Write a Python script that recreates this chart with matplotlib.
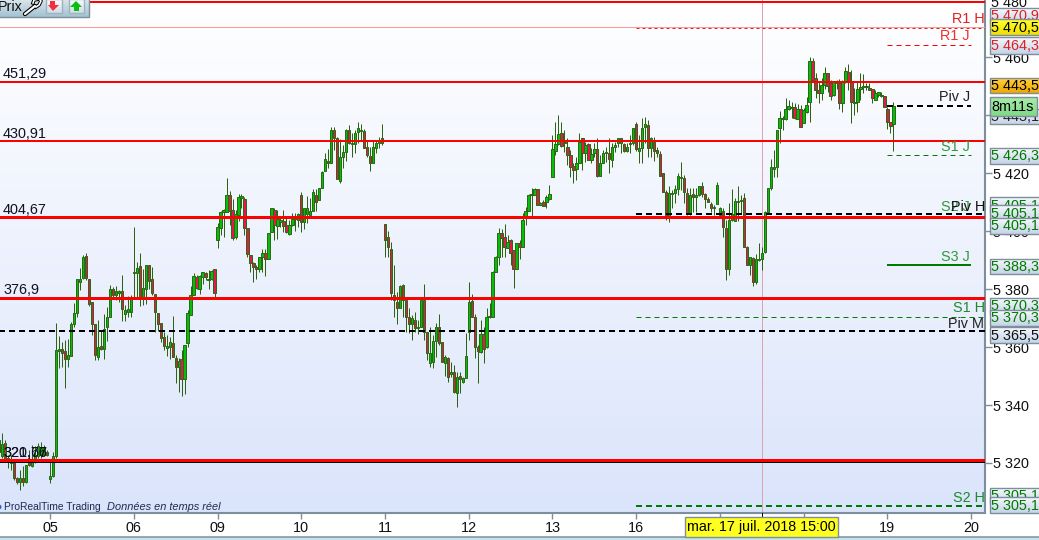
import numpy as np
import matplotlib
matplotlib.use("Agg")
import matplotlib.pyplot as plt
from matplotlib.patches import Rectangle, Polygon

plt.rcParams['font.family'] = ['Liberation Sans', 'DejaVu Sans']

opens = [
    5323.8, 5322.4, 5326.9, 5320.3, 5320.0, 5320.3, 5314.8, 5313.4, 5314.8, 5313.4,
    5320.7, 5319.0, 5320.3, 5322.4, 5322.8, 5322.8, 5323.8, 5314.5, 5315.5, 5322.4,
    5358.6, 5359.3, 5358.6, 5355.9, 5356.9, 5367.9, 5371.7, 5382.4, 5383.8, 5391.4,
    5383.4, 5375.5, 5367.9, 5356.6, 5360.3, 5359.3, 5366.9, 5370.3, 5380.0, 5377.9,
    5378.6, 5379.3, 5371.4, 5372.1, 5372.1, 5385.5, 5385.5, 5387.9, 5377.2, 5380.0,
    5388.3, 5383.4, 5378.3, 5371.7, 5368.3, 5363.4, 5359.7, 5360.0, 5361.4, 5356.2,
    5353.1, 5355.9, 5349.0, 5361.4, 5371.0, 5377.9, 5384.1, 5380.0, 5384.1, 5385.5,
    5383.1, 5383.4, 5386.9, 5396.9, 5401.0, 5406.6, 5406.6, 5412.4, 5407.2, 5397.9,
    5405.5, 5411.4, 5411.0, 5401.0, 5391.7, 5389.0, 5387.6, 5386.9, 5391.0, 5392.4,
    5390.3, 5399.7, 5407.2, 5401.7, 5403.1, 5403.4, 5402.1, 5399.0, 5402.1, 5404.1,
    5403.8, 5412.4, 5403.1, 5405.9, 5405.5, 5406.9, 5412.4, 5410.7, 5414.8, 5420.7,
    5424.1, 5423.4, 5434.8, 5432.1, 5417.2, 5425.5, 5427.2, 5434.8, 5430.0, 5430.0,
    5434.1, 5434.5, 5434.5, 5429.0, 5425.9, 5423.4, 5428.6, 5430.3, 5432.1, 5402.4,
    5397.9, 5393.8, 5377.9, 5375.5, 5373.4, 5381.4, 5376.2, 5370.3, 5367.9, 5369.3,
    5366.6, 5366.9, 5376.2, 5365.2, 5354.5, 5354.8, 5362.1, 5366.9, 5361.7, 5354.5,
    5356.2, 5350.7, 5351.4, 5344.1, 5350.0, 5347.9, 5349.3, 5365.2, 5375.9, 5370.3,
    5360.0, 5358.3, 5364.5, 5360.0, 5370.3, 5370.3, 5385.9, 5391.0, 5399.3, 5397.9,
    5394.1, 5396.9, 5393.4, 5386.9, 5395.9, 5394.5, 5404.8, 5406.9, 5412.4, 5412.4,
    5414.5, 5409.0, 5410.0, 5410.0, 5411.0, 5418.6, 5427.6, 5430.0, 5433.8, 5430.7,
    5429.0, 5426.2, 5422.4, 5421.4, 5423.4, 5432.1, 5426.9, 5430.0, 5424.5, 5426.9,
    5428.3, 5419.0, 5423.4, 5426.9, 5426.9, 5424.5, 5429.0, 5430.3, 5432.1, 5430.0,
    5427.6, 5430.0, 5430.3, 5436.9, 5427.6, 5428.6, 5435.9, 5436.6, 5428.6, 5430.7,
    5427.9, 5426.6, 5420.0, 5413.4, 5404.8, 5412.8, 5413.1, 5414.5, 5418.3, 5418.3,
    5413.1, 5405.9, 5412.8, 5411.7, 5412.4, 5415.5, 5412.8, 5411.0, 5409.3, 5407.9,
    5409.3, 5405.5, 5406.9, 5401.0, 5386.9, 5403.8, 5403.4, 5410.0, 5410.3, 5411.4,
    5394.5, 5388.3, 5390.7, 5382.4, 5390.0, 5390.3, 5392.8, 5406.6, 5414.8, 5421.4,
    5422.1, 5435.5, 5438.6, 5438.6, 5442.1, 5442.4, 5442.8, 5438.6, 5442.1, 5437.2,
    5441.0, 5444.5, 5458.6, 5452.8, 5448.6, 5447.6, 5450.3, 5454.5, 5451.0, 5446.9,
    5451.0, 5451.0, 5444.1, 5451.4, 5454.8, 5451.4, 5444.1, 5444.5, 5449.0, 5449.7,
    5449.7, 5449.3, 5449.0, 5445.2, 5446.9, 5446.6, 5446.6, 5442.1, 5437.6, 5436.9,
]
highs = [
    5330.7, 5330.3, 5327.9, 5322.8, 5322.8, 5320.7, 5315.2, 5317.6, 5319.0, 5319.3,
    5324.5, 5326.2, 5325.9, 5326.9, 5327.2, 5326.2, 5324.5, 5320.3, 5323.8, 5368.3,
    5363.8, 5361.7, 5362.4, 5362.8, 5368.6, 5375.2, 5383.4, 5387.2, 5391.7, 5392.4,
    5383.4, 5375.5, 5367.9, 5369.3, 5365.9, 5371.4, 5373.8, 5381.4, 5380.7, 5381.0,
    5379.7, 5384.8, 5374.5, 5377.6, 5377.9, 5401.4, 5389.3, 5392.4, 5386.9, 5388.3,
    5388.3, 5387.6, 5378.3, 5371.7, 5368.3, 5365.2, 5364.1, 5363.4, 5370.7, 5357.2,
    5356.2, 5359.0, 5360.7, 5372.8, 5381.0, 5385.5, 5384.8, 5384.8, 5385.9, 5385.9,
    5386.6, 5386.6, 5386.9, 5402.8, 5406.9, 5407.6, 5418.3, 5413.8, 5411.0, 5407.2,
    5412.8, 5412.8, 5411.7, 5401.0, 5391.7, 5389.3, 5388.3, 5391.0, 5393.8, 5393.8,
    5399.3, 5407.9, 5407.9, 5407.2, 5404.8, 5407.2, 5404.5, 5403.8, 5406.2, 5406.2,
    5406.2, 5413.4, 5407.9, 5412.1, 5411.4, 5414.5, 5414.5, 5414.8, 5420.7, 5426.9,
    5428.3, 5435.9, 5435.9, 5432.4, 5431.7, 5429.7, 5435.2, 5436.6, 5433.8, 5434.8,
    5437.6, 5436.9, 5435.2, 5431.4, 5429.0, 5431.4, 5431.4, 5432.4, 5436.9, 5402.4,
    5400.0, 5396.2, 5388.3, 5379.0, 5381.4, 5381.7, 5376.2, 5373.4, 5371.0, 5372.1,
    5369.3, 5376.2, 5381.7, 5365.2, 5366.9, 5364.1, 5368.3, 5371.4, 5361.7, 5357.2,
    5356.6, 5354.8, 5353.8, 5351.4, 5351.4, 5349.7, 5364.8, 5382.4, 5378.3, 5371.4,
    5360.7, 5369.3, 5366.9, 5373.4, 5375.2, 5386.2, 5391.4, 5401.0, 5400.7, 5402.4,
    5398.6, 5397.2, 5393.4, 5395.9, 5396.9, 5406.2, 5408.3, 5412.8, 5414.8, 5414.8,
    5414.5, 5410.0, 5410.7, 5412.4, 5415.9, 5433.1, 5437.6, 5440.0, 5437.6, 5434.8,
    5432.1, 5427.9, 5423.4, 5425.5, 5433.8, 5432.1, 5430.7, 5430.3, 5428.6, 5430.3,
    5432.1, 5426.2, 5427.9, 5429.0, 5432.1, 5430.3, 5430.7, 5432.1, 5432.1, 5430.3,
    5430.3, 5433.1, 5435.5, 5437.6, 5433.1, 5439.0, 5439.3, 5438.3, 5432.4, 5432.4,
    5429.0, 5427.6, 5420.0, 5414.1, 5415.5, 5414.1, 5415.9, 5420.0, 5423.8, 5419.3,
    5414.8, 5414.8, 5414.8, 5414.8, 5415.5, 5416.9, 5413.1, 5411.7, 5410.0, 5409.0,
    5416.9, 5408.3, 5407.9, 5403.8, 5409.7, 5414.5, 5411.4, 5415.5, 5412.4, 5413.1,
    5394.8, 5391.0, 5391.0, 5392.1, 5395.9, 5394.5, 5406.9, 5414.8, 5424.8, 5427.9,
    5434.8, 5441.4, 5439.7, 5445.9, 5445.2, 5444.5, 5444.1, 5443.8, 5443.4, 5442.4,
    5446.2, 5460.0, 5459.7, 5454.5, 5451.4, 5452.8, 5456.6, 5454.5, 5452.1, 5451.4,
    5452.1, 5452.4, 5452.1, 5456.6, 5457.6, 5455.5, 5449.3, 5451.4, 5454.5, 5454.1,
    5451.0, 5451.0, 5449.0, 5448.6, 5447.9, 5447.9, 5446.6, 5442.8, 5437.6, 5444.5,
]
lows = [
    5321.7, 5321.7, 5320.7, 5318.3, 5317.6, 5314.1, 5312.8, 5310.7, 5312.1, 5313.1,
    5319.0, 5318.6, 5320.0, 5321.7, 5321.7, 5322.4, 5322.4, 5313.1, 5315.2, 5321.7,
    5352.8, 5353.1, 5345.9, 5353.1, 5356.9, 5366.9, 5370.3, 5379.7, 5383.4, 5383.1,
    5374.1, 5364.1, 5355.5, 5355.5, 5359.0, 5355.9, 5362.1, 5370.3, 5376.9, 5376.2,
    5375.5, 5369.0, 5369.0, 5370.3, 5370.3, 5376.9, 5377.2, 5374.1, 5374.5, 5374.8,
    5380.0, 5377.9, 5365.2, 5365.5, 5361.7, 5359.0, 5356.9, 5355.9, 5356.6, 5347.6,
    5344.5, 5343.1, 5343.8, 5360.0, 5371.0, 5377.9, 5380.0, 5378.3, 5381.7, 5383.1,
    5380.0, 5383.1, 5377.2, 5394.1, 5398.6, 5397.9, 5406.6, 5402.1, 5396.9, 5397.2,
    5403.4, 5407.9, 5398.6, 5391.0, 5385.9, 5382.4, 5383.4, 5385.9, 5385.9, 5384.5,
    5390.3, 5399.7, 5396.9, 5397.2, 5401.4, 5399.7, 5399.3, 5398.6, 5401.7, 5400.0,
    5401.4, 5399.7, 5400.7, 5402.8, 5404.8, 5406.9, 5406.9, 5410.7, 5414.8, 5420.7,
    5421.7, 5423.4, 5427.9, 5417.9, 5416.6, 5421.7, 5424.1, 5430.0, 5425.5, 5426.9,
    5430.3, 5431.4, 5428.6, 5425.5, 5420.7, 5423.4, 5426.9, 5428.6, 5429.7, 5391.0,
    5391.0, 5376.2, 5370.3, 5367.9, 5373.4, 5370.3, 5365.2, 5364.8, 5362.4, 5365.2,
    5364.5, 5366.9, 5362.4, 5355.5, 5353.1, 5352.8, 5356.6, 5360.7, 5354.8, 5350.0,
    5347.9, 5349.7, 5344.1, 5339.3, 5344.1, 5347.6, 5349.3, 5362.4, 5370.3, 5356.2,
    5347.6, 5357.9, 5354.5, 5359.7, 5370.0, 5370.3, 5385.9, 5388.3, 5391.0, 5391.0,
    5394.1, 5388.3, 5380.3, 5386.9, 5390.3, 5394.5, 5402.1, 5406.9, 5405.2, 5412.4,
    5409.0, 5409.0, 5408.6, 5407.9, 5410.7, 5418.6, 5426.2, 5429.7, 5429.0, 5427.2,
    5422.8, 5418.6, 5416.6, 5417.6, 5423.4, 5421.0, 5423.8, 5424.5, 5423.4, 5425.5,
    5418.6, 5419.0, 5423.4, 5423.8, 5420.0, 5422.1, 5427.2, 5429.0, 5426.9, 5427.2,
    5427.2, 5426.9, 5429.7, 5427.6, 5423.4, 5423.4, 5430.3, 5425.5, 5425.5, 5424.1,
    5425.5, 5419.0, 5413.4, 5403.8, 5403.1, 5407.9, 5409.7, 5412.4, 5414.1, 5409.7,
    5405.5, 5405.5, 5406.6, 5406.6, 5412.1, 5411.7, 5407.9, 5410.0, 5406.6, 5405.5,
    5409.3, 5404.8, 5397.9, 5383.1, 5384.8, 5403.4, 5403.4, 5403.4, 5406.2, 5394.5,
    5388.3, 5384.8, 5381.0, 5381.7, 5389.7, 5386.6, 5392.4, 5406.6, 5414.1, 5418.6,
    5418.6, 5430.3, 5434.8, 5438.3, 5441.7, 5439.0, 5438.6, 5438.6, 5435.9, 5437.2,
    5440.7, 5437.6, 5451.7, 5445.9, 5444.1, 5445.2, 5449.0, 5447.9, 5445.2, 5446.6,
    5449.0, 5442.1, 5441.0, 5451.0, 5448.6, 5437.2, 5440.0, 5441.0, 5445.2, 5447.6,
    5448.6, 5448.6, 5444.1, 5445.2, 5446.2, 5446.2, 5442.8, 5435.2, 5433.8, 5427.6,
]
closes = [
    5327.9, 5326.6, 5321.0, 5321.7, 5321.0, 5314.8, 5313.4, 5314.8, 5313.4, 5319.3,
    5319.3, 5320.3, 5322.8, 5325.9, 5325.2, 5325.5, 5322.8, 5315.5, 5322.4, 5359.0,
    5359.3, 5357.9, 5355.9, 5357.2, 5367.9, 5371.7, 5383.4, 5383.4, 5391.0, 5383.8,
    5374.8, 5367.9, 5357.2, 5360.0, 5359.3, 5366.2, 5370.3, 5380.0, 5377.9, 5379.3,
    5379.3, 5373.1, 5372.8, 5373.1, 5376.9, 5385.9, 5387.2, 5377.2, 5380.3, 5388.3,
    5382.8, 5378.6, 5372.1, 5367.9, 5363.1, 5360.3, 5360.3, 5361.7, 5356.6, 5353.1,
    5355.2, 5349.0, 5360.7, 5371.7, 5377.9, 5384.5, 5380.3, 5384.5, 5385.9, 5384.1,
    5383.4, 5386.2, 5378.6, 5401.4, 5406.6, 5407.2, 5412.4, 5406.9, 5397.6, 5405.9,
    5411.7, 5412.1, 5401.0, 5392.1, 5389.0, 5387.6, 5386.9, 5391.0, 5392.4, 5390.3,
    5399.3, 5407.9, 5402.1, 5404.1, 5403.8, 5401.7, 5399.7, 5402.1, 5404.1, 5405.2,
    5405.9, 5403.1, 5407.9, 5407.9, 5406.9, 5413.4, 5410.0, 5414.8, 5420.3, 5424.8,
    5423.4, 5434.8, 5432.1, 5417.9, 5425.5, 5427.2, 5434.8, 5430.3, 5430.3, 5433.8,
    5435.5, 5434.8, 5428.6, 5426.2, 5423.4, 5429.0, 5430.3, 5431.0, 5430.3, 5396.9,
    5394.5, 5378.6, 5376.2, 5373.4, 5381.0, 5376.2, 5370.3, 5367.9, 5370.0, 5366.6,
    5366.9, 5376.2, 5365.2, 5357.9, 5357.9, 5362.1, 5366.9, 5361.4, 5354.8, 5356.6,
    5349.7, 5351.4, 5344.5, 5349.7, 5349.0, 5349.3, 5356.9, 5375.5, 5370.3, 5360.0,
    5358.6, 5364.5, 5359.3, 5370.3, 5370.7, 5385.9, 5391.0, 5399.3, 5397.6, 5394.5,
    5396.2, 5392.4, 5386.9, 5395.9, 5394.5, 5403.8, 5406.9, 5412.4, 5412.8, 5414.5,
    5409.0, 5409.7, 5408.6, 5411.7, 5412.8, 5428.3, 5430.0, 5433.4, 5429.3, 5430.3,
    5426.2, 5422.1, 5421.0, 5423.4, 5430.7, 5426.9, 5429.7, 5424.5, 5426.6, 5428.3,
    5419.0, 5423.4, 5426.9, 5427.2, 5424.8, 5429.0, 5429.7, 5432.1, 5430.3, 5427.6,
    5429.0, 5430.3, 5435.5, 5428.3, 5428.6, 5435.5, 5436.9, 5428.6, 5432.1, 5427.6,
    5426.9, 5419.0, 5413.4, 5404.8, 5413.1, 5413.1, 5414.5, 5419.0, 5418.6, 5413.4,
    5405.9, 5412.4, 5411.7, 5412.4, 5415.5, 5412.8, 5411.0, 5410.0, 5407.9, 5408.3,
    5415.9, 5407.9, 5401.4, 5386.9, 5403.8, 5405.9, 5410.3, 5410.3, 5410.7, 5394.5,
    5388.3, 5391.0, 5382.4, 5390.3, 5390.3, 5392.4, 5406.6, 5414.8, 5422.1, 5422.1,
    5434.8, 5439.0, 5439.0, 5442.1, 5443.1, 5442.8, 5439.0, 5442.1, 5435.9, 5441.7,
    5443.4, 5458.6, 5452.1, 5448.6, 5447.6, 5450.3, 5454.5, 5450.0, 5446.6, 5451.4,
    5451.4, 5444.1, 5451.4, 5455.2, 5451.4, 5444.5, 5444.5, 5449.0, 5449.7, 5450.0,
    5450.0, 5448.6, 5445.9, 5447.6, 5447.9, 5446.9, 5442.8, 5437.6, 5436.2, 5443.1,
]

day_bars = [17, 45, 73, 101, 129, 157, 185, 213, 241, 269, 297, 325]
# 17 and 18 sit under the yellow date cursor
day_labels = ['05', '06', '09', '10', '11', '12', '13', '16', '', '', '19', '20']
price_ticks = [5320, 5340, 5360, 5380, 5400, 5420, 5440, 5460]
price_labels = ['5 320', '5 340', '5 360', '5 380', '5 400', '5 420', '5 440', '5 460']

red_thin = [5479.0, 5451.29, 5430.91]
red_thick = [5404.67, 5376.9, 5321.2]
r1_h = 5470.5
r1_j = 5464.3
piv_j = 5443.1
s1_j = 5426.3
piv_h = 5405.9
s3_j = 5388.3
s1_h = 5370.3
piv_m = 5365.5
low_black = 5320.3
s2_h = 5305.1
cursor_bar = 255

px = 1 / 100 * 72  # one pixel in points
fs = 10.4
frame = '#7d8f9c'
wick = '#2c6210'
edge = '#2a6a14'
up = '#06bd0a'
down = '#e6174c'
red = '#ff0000'
dgreen = '#007a00'
dash = (0, (3, 2))
thin_dash = (0, (5, 4))

fig = plt.figure(figsize=(10.39, 5.40), dpi=100, facecolor='white')
ax = fig.add_axes([0, 27 / 540, 985 / 1039, 513 / 540])

bg = np.linspace(0, 1, 256).reshape(-1, 1, 1) * (np.array([0xda, 0xe4, 0xfb]) / 255) \
    + (1 - np.linspace(0, 1, 256).reshape(-1, 1, 1)) * np.array([1, 1, 1])
ax.imshow(bg, extent=(0, 1, 0, 1), transform=ax.transAxes, aspect='auto', zorder=0)

bars = np.arange(len(opens))
o = np.array(opens)
c = np.array(closes)
colors = [up if cl >= op else down for op, cl in zip(o, c)]
ax.vlines(bars, lows, highs, color=wick, lw=px, zorder=2, snap=True)
ax.bar(bars, np.abs(c - o), bottom=np.minimum(o, c), width=0.8, color=colors,
       edgecolor=edge, linewidth=px, zorder=3)

ax.axvline(cursor_bar, color='#dca4b0', lw=px, zorder=1.5, snap=True)


def level(price, x0, x1, color, width, style='-', z=4):
    # Line2D rather than hlines so that 1px lines stay on one pixel row
    ax.plot([x0, x1], [price, price], color=color, lw=width * px, ls=style, zorder=z,
            solid_capstyle='butt', dash_capstyle='butt', snap=True)


end = 340
level(r1_h, -5, end, '#ff9a9a', 1)
level(r1_h - 0.35, 213, end, '#e02020', 1, (0, (3, 3)))
for price in red_thin:
    level(price, -5, end, red, 2, z=5)
for price in red_thick:
    level(price, -5, end, red, 3, z=5)
level(low_black, -5, end, 'black', 1)
level(piv_m, -5, end, 'black', 2, dash, z=6)
level(piv_h, 213, end, 'black', 2, dash, z=4.5)
level(s1_h, 213, end, dgreen, 1, thin_dash)
level(s2_h, 213, end, dgreen, 2, dash)
level(r1_j, 297, 325, red, 1, thin_dash)
level(piv_j, 297, 325, 'black', 2, dash)
level(s1_j, 297, 325, dgreen, 1, thin_dash)
level(s3_j, 297, 325, dgreen, 2)

ax.set_xlim(0.7 / 2.99, 985.7 / 2.99)
ax.set_ylim(5420 - 340 / 2.9, 5420 + 173 / 2.9)
ax.yaxis.tick_right()
ax.set_xticks(day_bars, day_labels)
ax.set_yticks(price_ticks, price_labels)
ax.tick_params(axis='x', length=4, width=1, color=frame, labelsize=fs, pad=2, labelcolor='#111111')
ax.tick_params(axis='y', length=5, width=1, color=frame, labelsize=fs, pad=0.5, labelcolor='#111111')
for side in ['top', 'left']:
    ax.spines[side].set_visible(False)
for side in ['right', 'bottom']:
    ax.spines[side].set_color(frame)
    ax.spines[side].set_linewidth(1.5)

# pixel overlay for the platform's chrome
top = fig.add_axes([0, 0, 1, 1], facecolor='none')
top.axis('off')


def grad_box(x0, y0, x1, y1, c0, c1, z, border=frame):
    g = np.linspace(0, 1, 32).reshape(-1, 1, 1)
    rgb0 = np.array(matplotlib.colors.to_rgb(c0))
    rgb1 = np.array(matplotlib.colors.to_rgb(c1))
    top.imshow(g * rgb1 + (1 - g) * rgb0, extent=(x0, x1, y1, y0), aspect='auto', zorder=z)
    if border:
        top.add_patch(Rectangle((x0, y0), x1 - x0, y1 - y0, fc='none', ec=border, lw=1.4 * px, zorder=z))


tags = [
    (8, 24, '5 470,9', '#e02020', '#f6f8fc', '#c6d4e8'),
    (19, 35, '5 470,5', 'black', '#ffff30', '#f0e000'),
    (37, 54, '5 464,3', '#e02020', '#f6f8fc', '#c6d4e8'),
    (109, 124, '5 443,1', '#222222', '#f6f8fc', '#c6d4e8'),
    (78, 93, '5 443,5', 'black', '#ffd040', '#f0a800'),
    (97, 116, '8m11s', 'black', '#a8eca8', '#80d888'),
    (148, 164, '5 426,3', dgreen, '#f6f8fc', '#c6d4e8'),
    (197, 213, '5 405,1', dgreen, '#f6f8fc', '#c6d4e8'),
    (205, 221, '5 405,1', dgreen, '#f6f8fc', '#c6d4e8'),
    (218, 234, '5 405,1', dgreen, '#f6f8fc', '#c6d4e8'),
    (259, 274, '5 388,3', dgreen, '#f6f8fc', '#c6d4e8'),
    (298, 314, '5 370,3', dgreen, '#f6f8fc', '#c6d4e8'),
    (310, 326, '5 370,3', dgreen, '#f6f8fc', '#c6d4e8'),
    (327, 343, '5 365,5', '#111111', '#f6f8fc', '#c6d4e8'),
    (488, 504, '5 305,1', dgreen, '#f6f8fc', '#c6d4e8'),
    (497, 513, '5 305,1', dgreen, '#f6f8fc', '#c6d4e8'),
]
top.text(991, 3, '5 480', fontsize=fs, color='#111111', va='center', zorder=1)
z = 2
for y0, y1, txt, col, c0, c1 in tags:
    x1 = 1037 if txt == '8m11s' else 1042
    grad_box(989.5, y0, x1, y1, c0, c1, z)
    top.text(991, (y0 + y1) / 2 + 0.5, txt, fontsize=fs, color=col, va='center', zorder=z + 0.5,
             clip_on=True)
    z += 1

level_texts = [
    (3, 74, '451,29'), (3, 134, '430,91'), (3, 210, '404,67'), (3, 290, '376,9'),
    (3, 453, '321,67'), (4, 453, '320,76'),
]
for x, y, txt in level_texts:
    top.text(x, y, txt, fontsize=fs, color='#111122', va='center', zorder=1)

names = [
    (985, 19, 'R1 H', '#e02020'), (970, 36, 'R1 J', '#f03030'), (970, 97, 'Piv J', '#222222'),
    (970, 147, 'S1 J', '#2e9a3c'), (970, 207, 'S2 J', '#2e9a3c'), (985, 207, 'Piv H', '#111111'),
    (970, 257, 'S3 J', '#2e9a3c'), (985, 308, 'S1 H', '#1e8a2c'), (984, 324, 'Piv M', '#222222'),
    (985, 498, 'S2 H', '#1e8a2c'),
]
for x, y, txt, col in names:
    top.text(x, y, txt, fontsize=fs, color=col, va='center', ha='right', zorder=1)

# footer text
top.add_patch(plt.Circle((-1, 507), 2.5, fc='#3060c0', ec='none'))
top.text(4, 507, 'ProRealTime Trading', fontsize=7.4, color='#202a50', va='center')
top.text(107, 507, 'Données en temps réel', fontsize=7.9, color='#202a50', va='center', style='italic')

# date cursor
grad_box(684.5, 517, 838, 537, '#ffff20', '#ffff20', 30)
top.text(687, 527.5, 'mar. 17 juil. 2018 15:00', fontsize=10.3, color='black', va='center', zorder=31)
top.plot([762, 762], [513, 517], color='black', lw=px, zorder=29)

# bottom strip
top.add_patch(Rectangle((0, 537), 1039, 3, fc='#c4e2ea', ec='none', zorder=20))
top.plot([0, 1039], [537, 537], color=frame, lw=1.5 * px, zorder=21)

# toolbar
grad_box(-2, -2, 88.5, 17, '#dde9ee', '#a4c2d2', 40)
top.text(-2, 7, 'Prix', fontsize=fs, color='#111111', va='center', zorder=41)
top.plot([25, 35], [14, 6], color='black', lw=4.4 * px, solid_capstyle='round', zorder=41)
top.plot([25, 35], [14, 6], color='white', lw=2.2 * px, solid_capstyle='round', zorder=42)
top.plot([33, 34, 39, 41, 39, 36], [3, 0, -1, 1, 5, 7], color='black', lw=3.6 * px, zorder=41)
top.plot([33, 34, 39, 41, 39, 36], [3, 0, -1, 1, 5, 7], color='white', lw=1.6 * px, zorder=42)
grad_box(46, -1, 62, 13, '#fbfdff', '#d0dce4', 41, border='#9fb2bf')
top.add_patch(Polygon([[50, 1], [55, 1], [55, 5], [59, 5], [53, 11], [48, 5], [50, 5]], fc='#f03040', ec='none', zorder=43))
grad_box(69, -1, 84, 13, '#fbfdff', '#d0dce4', 41, border='#9fb2bf')
top.add_patch(Polygon([[76, 1], [82, 7], [79, 7], [79, 11], [74, 11], [74, 7], [70, 7]], fc='#08c010', ec='none', zorder=43))

top.set_xlim(0, 1039)
top.set_ylim(540, 0)

fig.savefig('out.png', dpi=100, facecolor='white')
